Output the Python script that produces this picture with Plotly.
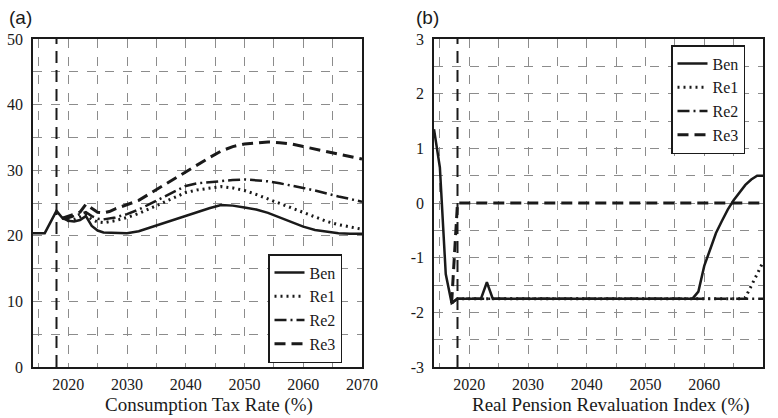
import plotly.graph_objects as go

# ---------------- Panel (a): Consumption Tax Rate (%) ----------------
years_a_ben = [2014, 2016, 2018, 2019, 2020, 2021, 2022, 2023, 2024, 2025, 2026, 2028, 2030,
               2032, 2034, 2036, 2038, 2040, 2042, 2044, 2046, 2048, 2050, 2052, 2054, 2056,
               2058, 2060, 2062, 2064, 2066, 2068, 2070]
ben_a = [20.4, 20.4, 23.8, 22.7, 22.3, 22.2, 22.4, 23.0, 21.5, 20.8, 20.5, 20.4, 20.4,
         20.7, 21.3, 21.9, 22.5, 23.0, 23.6, 24.2, 24.7, 24.6, 24.3, 24.0, 23.5, 22.8,
         22.1, 21.4, 20.9, 20.6, 20.4, 20.3, 20.3]

years_a_re = [2019, 2020, 2021, 2022, 2023, 2024, 2025, 2026, 2027, 2028, 2030, 2032, 2034,
              2036, 2038, 2040, 2042, 2044, 2046, 2048, 2050, 2052, 2054, 2056, 2058, 2060,
              2062, 2064, 2066, 2068, 2070]
re1_a = [22.7, 22.3, 22.5, 22.9, 23.2, 22.5, 22.1, 22.0, 22.1, 22.3, 22.8, 23.4, 24.2,
         25.0, 25.9, 26.6, 27.0, 27.3, 27.5, 27.3, 26.9, 26.3, 25.6, 24.9, 24.2, 23.6,
         22.8, 22.2, 21.7, 21.3, 21.0]
re2_a = [22.7, 22.7, 23.0, 23.3, 23.6, 23.0, 22.6, 22.5, 22.6, 22.8, 23.3, 24.0, 24.9,
         25.8, 26.8, 27.6, 28.0, 28.2, 28.4, 28.5, 28.6, 28.5, 28.3, 28.0, 27.7, 27.3,
         26.9, 26.4, 26.0, 25.6, 25.2]
re3_a = [22.7, 23.0, 23.3, 23.6, 24.8, 24.2, 23.6, 23.5, 23.7, 24.1, 24.8, 25.4, 26.5,
         27.6, 28.6, 29.7, 30.8, 31.9, 32.9, 33.6, 34.0, 34.2, 34.3, 34.2, 34.0, 33.6,
         33.2, 32.8, 32.4, 32.0, 31.7]

# ---------------- Panel (b): Real Pension Revaluation Index (%) ----------------
years_b_ben = list(range(2014, 2071))
ben_b = [1.35, 0.65, -1.3, -1.83, -1.75, -1.75, -1.75, -1.75, -1.75, -1.45, -1.75] + \
        [-1.75] * 34 + \
        [-1.62, -1.15, -0.85, -0.55, -0.33, -0.12, 0.05, 0.2, 0.33, 0.43, 0.5, 0.5]

years_b_re = list(range(2017, 2071))
re1_b = [-1.83] + [-1.75] * 49 + [-1.73, -1.5, -1.3, -1.08]
re2_b = [-1.83] + [-1.75] * 53
re3_b = [-1.83] + [0.0] * 53

reform_year = 2018
series_names = ["Ben", "Re1", "Re2", "Re3"]
dashes = ["solid", "2px,4px", "12px,4px,2px,4px", "11px,6px"]
widths = [2.5, 3, 2.5, 3]

SERIF = "Liberation Serif"
INK = "#1a1a1a"
GRIDC = "#8c8c8c"

fig = go.Figure()

data_a = [(years_a_ben, ben_a), (years_a_re, re1_a), (years_a_re, re2_a), (years_a_re, re3_a)]
data_b = [(years_b_ben, ben_b), (years_b_re, re1_b), (years_b_re, re2_b), (years_b_re, re3_b)]

for i, (xs, ys) in enumerate(data_a):
    fig.add_trace(go.Scatter(x=xs, y=ys, mode="lines", name=series_names[i],
                             line=dict(color=INK, width=widths[i], dash=dashes[i]),
                             xaxis="x", yaxis="y", legend="legend"))
for i, (xs, ys) in enumerate(data_b):
    fig.add_trace(go.Scatter(x=xs, y=ys, mode="lines", name=series_names[i],
                             line=dict(color=INK, width=widths[i], dash=dashes[i]),
                             xaxis="x2", yaxis="y2", legend="legend2"))

ydom = [1 - 367 / 418, 1 - 39 / 418]

tf = dict(family=SERIF, size=16, color=INK)
common = dict(showline=True, linecolor=INK, linewidth=1.5, mirror=True, ticks="",
              zeroline=False, tickfont=tf, showgrid=True, gridcolor=GRIDC, gridwidth=1,
              griddash="dash")


def xaxis(dom, anchor):
    return dict(domain=dom, anchor=anchor, range=[2014, 2070], tick0=2020, dtick=10,
                minor=dict(tick0=2015, dtick=5, showgrid=True, gridcolor=GRIDC, gridwidth=1,
                           griddash="dash"),
                ticklabelstandoff=2, **common)


def yaxis(dom, anchor, rng, vals, minor_dt):
    return dict(domain=dom, anchor=anchor, range=rng, tickvals=vals,
                ticktext=[str(v) for v in vals],
                minor=dict(tick0=rng[0], dtick=minor_dt, showgrid=True, gridcolor=GRIDC,
                           gridwidth=1, griddash="dash"),
                ticklabelstandoff=5, **common)


yticks_a = [0, 10, 20, 30, 40, 50]
yticks_b = [-3, -2, -1, 0, 1, 2, 3]

fig.update_layout(
    width=778, height=418,
    margin=dict(l=0, r=0, t=0, b=0, autoexpand=False),
    paper_bgcolor="white", plot_bgcolor="white",
    xaxis=xaxis([33 / 778, 362 / 778], "y"),
    yaxis=yaxis(ydom, "x", [0, 50], yticks_a, 5),
    xaxis2=xaxis([434 / 778, 763 / 778], "y2"),
    yaxis2=yaxis(ydom, "x2", [-3, 3], yticks_b, 0.5),
    legend=dict(x=342 / 778, xanchor="right", y=1 - 363 / 418, yanchor="bottom",
                bgcolor="white", bordercolor=INK, borderwidth=1.5,
                font=dict(family=SERIF, size=16, color=INK), tracegroupgap=0),
    legend2=dict(x=745 / 778, xanchor="right", y=1 - 45 / 418, yanchor="top",
                 bgcolor="white", bordercolor=INK, borderwidth=1.5,
                 font=dict(family=SERIF, size=16, color=INK), tracegroupgap=0),
    showlegend=True,
)

for xr, yr in [("x", "y domain"), ("x2", "y2 domain")]:
    fig.add_shape(type="line", x0=reform_year, x1=reform_year, y0=0, y1=1,
                  xref=xr, yref=yr, line=dict(color=INK, width=2, dash="12px,7px"))

annots = [
    dict(text="(a)", x=7 / 778, y=1 - 17 / 418, xanchor="left",
         font=dict(family="Liberation Sans", size=19, color=INK)),
    dict(text="(b)", x=414 / 778, y=1 - 17 / 418, xanchor="left",
         font=dict(family="Liberation Sans", size=19, color=INK)),
    dict(text="Consumption Tax Rate (%)", x=209 / 778, y=1 - 405 / 418, xanchor="center",
         font=dict(family=SERIF, size=19, color=INK)),
    dict(text="Real Pension Revaluation Index (%)", x=611 / 778, y=1 - 405 / 418,
         xanchor="center", font=dict(family=SERIF, size=19, color=INK)),
]
for a in annots:
    fig.add_annotation(xref="paper", yref="paper", yanchor="middle", showarrow=False, **a)

fig.write_html("out.html")
